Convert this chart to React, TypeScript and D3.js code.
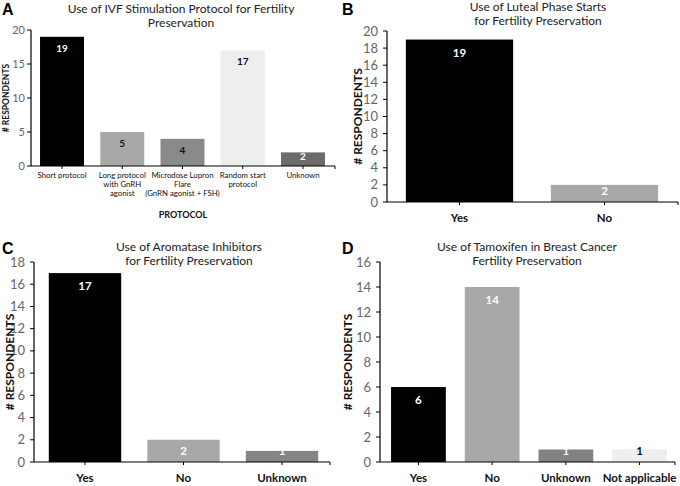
import React from "react";
import * as d3 from "d3";

// ---------- data ----------
const protocolCategories = [
  ["Short protocol"],
  ["Long protocol", "with GnRH", "agonist"],
  ["Microdose Lupron", "Flare", "(GnRN agonist + FSH)"],
  ["Random start", "protocol"],
  ["Unknown"],
];
const protocolValues = [19, 5, 4, 17, 2];

const lutealCategories = [["Yes"], ["No"]];
const lutealValues = [19, 2];

const aromataseCategories = [["Yes"], ["No"], ["Unknown"]];
const aromataseValues = [17, 2, 1];

const tamoxifenCategories = [["Yes"], ["No"], ["Unknown"], ["Not applicable"]];
const tamoxifenValues = [6, 14, 1, 1];

const yTicksA = [0, 5, 10, 15, 20];
const yTicksB = [0, 2, 4, 6, 8, 10, 12, 14, 16, 18, 20];
const yTicksC = [0, 2, 4, 6, 8, 10, 12, 14, 16, 18];
const yTicksD = [0, 2, 4, 6, 8, 10, 12, 14, 16];

const FONT = "Lato, 'Open Sans', sans-serif";

type PanelProps = {
  letter: string;
  letterX: number;
  letterY: number;
  title: string[];
  titleX: number;
  titleY: number;
  titleFont: number;
  cats: string[][];
  values: number[];
  ticks: number[];
  x0: number;
  x1: number;
  axisEnd: number;
  yTop: number;
  yBottom: number;
  padInner: number;
  padOuter: number;
  barColors: string[];
  labelColors: string[];
  tickFont: number;
  catFont: number;
  catBold: boolean;
  catY: number;
  catLine: number;
  valueFont: number;
  valueOffset: number;
  valueBottom: number;
  yTitleX: number;
  yTitleFont: number;
  tickLabelGap: number;
  xTitle?: string;
  xTitleX?: number;
  xTitleY?: number;
};

function Panel(p: PanelProps) {
  const x = d3
    .scaleBand<number>()
    .domain(p.values.map((_, i) => i))
    .range([p.x0, p.x1])
    .paddingInner(p.padInner)
    .paddingOuter(p.padOuter);
  const y = d3
    .scaleLinear()
    .domain([0, p.ticks[p.ticks.length - 1]])
    .range([p.yBottom, p.yTop]);
  const yMid = (p.yTop + p.yBottom) / 2;
  return (
    <g>
      <text
        x={p.letterX}
        y={p.letterY}
        fontFamily="'Liberation Sans', Arial, sans-serif"
        fontWeight="bold"
        fontSize={16}
        fill="#000"
      >
        {p.letter}
      </text>
      {p.title.map((t, i) => (
        <text
          key={i}
          x={p.titleX}
          y={p.titleY + i * 14}
          textAnchor="middle"
          fontFamily={FONT}
          fontSize={p.titleFont}
          fill="#222"
        >
          {t}
        </text>
      ))}
      {/* bars */}
      {p.values.map((v, i) => (
        <rect
          key={i}
          x={x(i)}
          y={y(v)}
          width={x.bandwidth()}
          height={p.yBottom - y(v)}
          fill={p.barColors[i]}
        />
      ))}
      {/* value labels */}
      {p.values.map((v, i) => (
        <text
          key={i}
          x={(x(i) as number) + x.bandwidth() / 2}
          y={Math.min(y(v) + p.valueOffset, p.yBottom - p.valueBottom)}
          textAnchor="middle"
          fontFamily={FONT}
          fontWeight="bold"
          fontSize={p.valueFont}
          fill={p.labelColors[i]}
        >
          {v}
        </text>
      ))}
      {/* y axis */}
      <line x1={p.x0} x2={p.x0} y1={p.yTop} y2={p.yBottom} stroke="#000" strokeWidth={1.2} />
      {p.ticks.map((t) => (
        <g key={t}>
          <line x1={p.x0 - 4} x2={p.x0} y1={y(t)} y2={y(t)} stroke="#000" strokeWidth={1} />
          <text
            x={p.x0 - p.tickLabelGap}
            y={y(t)}
            dy="0.35em"
            textAnchor="end"
            fontFamily={FONT}
            fontSize={p.tickFont}
            fill="#666"
          >
            {t}
          </text>
        </g>
      ))}
      {/* x axis */}
      <line x1={p.x0} x2={p.axisEnd} y1={p.yBottom} y2={p.yBottom} stroke="#000" strokeWidth={1.2} />
      {p.values.map((_, i) => (
        <line
          key={i}
          x1={(x(i) as number) + x.bandwidth() / 2}
          x2={(x(i) as number) + x.bandwidth() / 2}
          y1={p.yBottom}
          y2={p.yBottom + 3}
          stroke="#000"
        />
      ))}
      <line x1={p.axisEnd} x2={p.axisEnd} y1={p.yBottom} y2={p.yBottom + 3} stroke="#000" />
      {p.cats.map((lines, i) =>
        lines.map((l, j) => (
          <text
            key={i + "-" + j}
            x={(x(i) as number) + x.bandwidth() / 2}
            y={p.catY + j * p.catLine}
            textAnchor="middle"
            fontFamily={FONT}
            fontWeight={p.catBold ? "bold" : "normal"}
            fontSize={p.catFont}
            fill="#111"
          >
            {l}
          </text>
        ))
      )}
      {/* y title */}
      <text
        transform={`translate(${p.yTitleX},${yMid}) rotate(-90)`}
        textAnchor="middle"
        fontFamily={FONT}
        fontWeight="bold"
        fontSize={p.yTitleFont}
        fill="#111"
      >
        # RESPONDENTS
      </text>
      {p.xTitle && (
        <text
          x={p.xTitleX}
          y={p.xTitleY}
          textAnchor="middle"
          fontFamily={FONT}
          fontWeight="bold"
          fontSize={9}
          fill="#111"
        >
          {p.xTitle}
        </text>
      )}
    </g>
  );
}

export default function App() {
  return (
    <svg
      width={680}
      height={486}
      style={{ position: "absolute", left: 0, top: 0, background: "#fff" }}
    >
      <rect width={680} height={486} fill="#fff" />
      <Panel
        letter="A"
        letterX={2}
        letterY={15}
        title={["Use of IVF Stimulation Protocol for Fertility", "Preservation"]}
        titleX={181}
        titleY={13}
        titleFont={12}
        cats={protocolCategories}
        values={protocolValues}
        ticks={yTicksA}
        x0={31}
        x1={334}
        axisEnd={335}
        yTop={30}
        yBottom={166}
        padInner={0.27}
        padOuter={0.15}
        barColors={["#000000", "#a8a8a8", "#8a8a8a", "#eeeeee", "#6b6b6b"]}
        labelColors={["#fff", "#111", "#111", "#111", "#fff"]}
        tickFont={11}
        catFont={7.8}
        catBold={false}
        catY={178}
        catLine={9}
        valueFont={10}
        valueOffset={15}
        valueBottom={6}
        yTitleX={9}
        yTitleFont={8.5}
        tickLabelGap={6}
        xTitle="PROTOCOL"
        xTitleX={183}
        xTitleY={218}
      />
      <Panel
        letter="B"
        letterX={342}
        letterY={15}
        title={["Use of Luteal Phase Starts", "for Fertility Preservation"]}
        titleX={538}
        titleY={11}
        titleFont={12}
        cats={lutealCategories}
        values={lutealValues}
        ticks={yTicksB}
        x0={387}
        x1={677}
        axisEnd={678}
        yTop={31}
        yBottom={202}
        padInner={0.26}
        padOuter={0.13}
        barColors={["#000000", "#a8a8a8"]}
        labelColors={["#fff", "#fff"]}
        tickFont={13}
        catFont={11.5}
        catBold={true}
        catY={222}
        catLine={12}
        valueFont={11.5}
        valueOffset={17}
        valueBottom={7}
        yTitleX={362}
        yTitleFont={12}
        tickLabelGap={9}
      />
      <Panel
        letter="C"
        letterX={2}
        letterY={254}
        title={["Use of Aromatase Inhibitors", "for Fertility Preservation"]}
        titleX={189}
        titleY={251}
        titleFont={12}
        cats={aromataseCategories}
        values={aromataseValues}
        ticks={yTicksC}
        x0={34}
        x1={333}
        axisEnd={330}
        yTop={262}
        yBottom={462}
        padInner={0.265}
        padOuter={0.15}
        barColors={["#000000", "#a8a8a8", "#858585"]}
        labelColors={["#fff", "#fff", "#fff"]}
        tickFont={13}
        catFont={11.5}
        catBold={true}
        catY={482}
        catLine={12}
        valueFont={11.5}
        valueOffset={17}
        valueBottom={7}
        yTitleX={14}
        yTitleFont={12}
        tickLabelGap={9}
      />
      <Panel
        letter="D"
        letterX={342}
        letterY={254}
        title={["Use of Tamoxifen in Breast Cancer", "Fertility Preservation"]}
        titleX={527}
        titleY={251}
        titleFont={12}
        cats={tamoxifenCategories}
        values={tamoxifenValues}
        ticks={yTicksD}
        x0={380}
        x1={678}
        axisEnd={675}
        yTop={262}
        yBottom={462}
        padInner={0.257}
        padOuter={0.15}
        barColors={["#000000", "#a8a8a8", "#828282", "#eeeeee"]}
        labelColors={["#fff", "#fff", "#fff", "#111"]}
        tickFont={13}
        catFont={11.5}
        catBold={true}
        catY={482}
        catLine={12}
        valueFont={11.5}
        valueOffset={17}
        valueBottom={7}
        yTitleX={352}
        yTitleFont={12}
        tickLabelGap={9}
      />
    </svg>
  );
}
